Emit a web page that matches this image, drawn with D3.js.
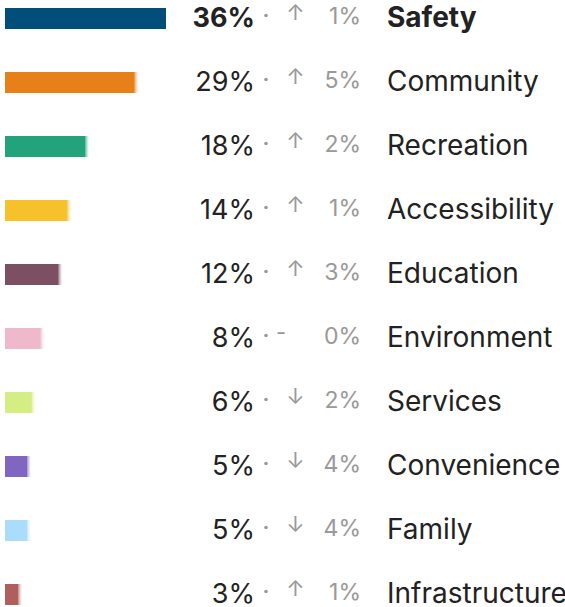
<!DOCTYPE html>
<html>
<head>
<meta charset="utf-8">
<script src="https://cdn.jsdelivr.net/npm/d3@7"></script>
<style>
  html, body { margin: 0; padding: 0; background: #fff; }
  svg { display: block; font-family: Inter, "Noto Sans", sans-serif; }
</style>
</head>
<body>
<svg id="chart" width="565" height="607"></svg>
<script>
// Share of mentions by theme, with change since the previous period
const categories = ["Safety", "Community", "Recreation", "Accessibility", "Education",
                    "Environment", "Services", "Convenience", "Family", "Infrastructure"];
const shares  = [36, 29, 18, 14, 12, 8, 6, 5, 5, 3];
const changes = [1, 5, 2, 1, 3, 0, 2, 4, 4, 1];
const trends  = ["up", "up", "up", "up", "up", "flat", "down", "down", "down", "up"];
const colors  = ["#024e7a", "#e8801a", "#22a37c", "#f6c12a", "#7d4f62",
                 "#f0b8cb", "#d4ee84", "#8066c0", "#aadcfc", "#b0605c"];

const svg = d3.select("#chart");

const y = d3.scaleBand()
  .domain(categories)
  .range([-3, 637])
  .paddingInner(0)
  .paddingOuter(0);

const x = d3.scaleLinear().domain([0, 36]).range([0, 161]);
const barX = 5, barH = 21;
const arrows = { up: "\u2191", down: "\u2193", flat: "-" };

const rows = svg.selectAll("g.row")
  .data(categories.map((c, i) => ({ c, i, v: shares[i], d: changes[i], t: trends[i], col: colors[i] })))
  .join("g")
  .attr("class", "row")
  .attr("transform", d => `translate(0,${y(d.c)})`);

// bar body
rows.append("rect")
  .attr("x", barX)
  .attr("y", 11)
  .attr("width", d => x(d.v))
  .attr("height", barH)
  .attr("fill", d => d.col);

// soft trailing edge on the smaller bars
[0.6, 0.35, 0.15].forEach((op, k) => {
  rows.filter(d => d.i > 0).append("rect")
    .attr("x", d => barX + x(d.v) + k)
    .attr("y", 11)
    .attr("width", 1)
    .attr("height", barH)
    .attr("fill", d => d.col)
    .attr("opacity", op);
});

const baseY = 30;

rows.append("text")
  .attr("x", 255)
  .attr("y", baseY)
  .attr("text-anchor", "end")
  .attr("font-size", 27)
  .attr("font-weight", d => d.i === 0 ? 700 : 400)
  .attr("fill", "#222")
  .text(d => d.v + "%");

rows.append("circle")
  .attr("cx", 266)
  .attr("cy", 18.5)
  .attr("r", 1.8)
  .attr("fill", "#999");

rows.append("text")
  .attr("x", d => d.t === "flat" ? 281 : 295.5)
  .attr("y", 22.5)
  .attr("text-anchor", "middle")
  .attr("font-size", 22)
  .attr("fill", "#999")
  .text(d => arrows[d.t]);

rows.append("text")
  .attr("x", 361)
  .attr("y", 27)
  .attr("text-anchor", "end")
  .attr("font-size", 23)
  .attr("fill", "#999")
  .text(d => d.d + "%");

rows.append("text")
  .attr("x", 387)
  .attr("y", baseY)
  .attr("font-size", 28)
  .attr("font-weight", d => d.i === 0 ? 700 : 400)
  .attr("fill", "#222")
  .text(d => d.c);
</script>
</body>
</html>
